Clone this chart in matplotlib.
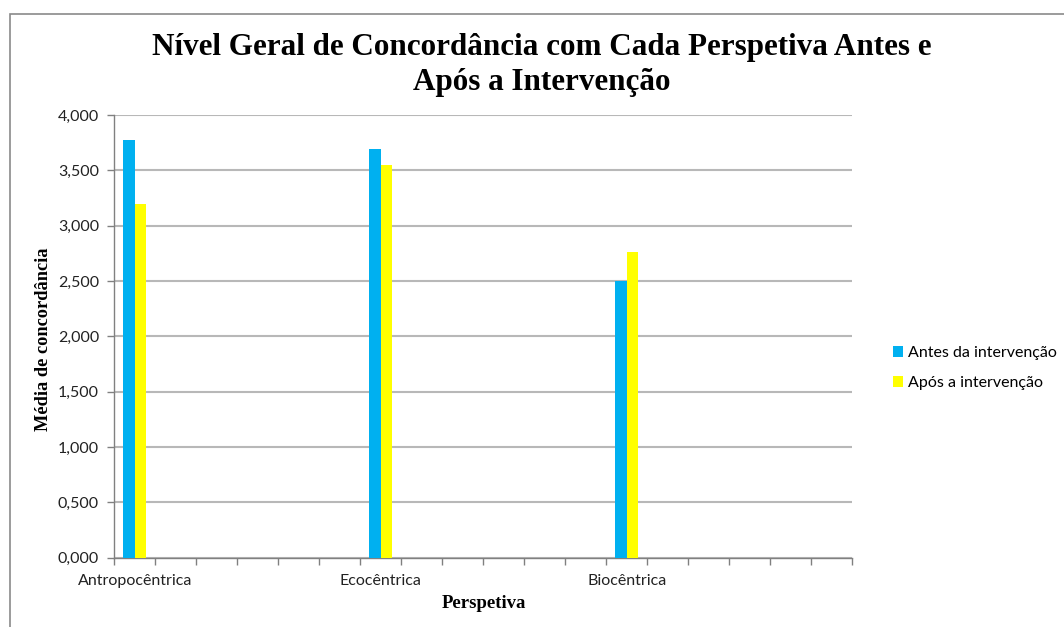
import matplotlib
matplotlib.use("Agg")
import matplotlib.pyplot as plt
import numpy as np
from matplotlib.patches import Rectangle
from matplotlib.ticker import FuncFormatter

# Data (18 category slots as in the original sheet; only three are filled)
categories = ["Antropocêntrica", "", "", "", "", "",
              "Ecocêntrica", "", "", "", "", "",
              "Biocêntrica", "", "", "", "", ""]
nan = np.nan
antes = [3.770, nan, nan, nan, nan, nan,
         3.689, nan, nan, nan, nan, nan,
         2.500, nan, nan, nan, nan, nan]
apos = [3.200, nan, nan, nan, nan, nan,
        3.547, nan, nan, nan, nan, nan,
        2.764, nan, nan, nan, nan, nan]
series_names = ["Antes da intervenção", "Após a intervenção"]
colors = ["#00B0F0", "#FFFF00"]
yticks = [0, 0.5, 1.0, 1.5, 2.0, 2.5, 3.0, 3.5, 4.0]

title = "Nível Geral de Concordância com Cada Perspetiva Antes e\nApós a Intervenção"
xlabel = "Perspetiva"
ylabel = "Média de concordância"

sans = ["Lato", "DejaVu Sans"]
serif = ["Liberation Serif", "DejaVu Serif"]
tick_fs = 11.5

fig = plt.figure(figsize=(10.64, 6.27), dpi=100)
ax = fig.add_axes([114.3 / 1064, 1 - 557.7 / 627, (852.3 - 114.3) / 1064, (557.7 - 115) / 627])

x = np.arange(len(categories))
w = 0.285
ax.bar(x - w / 2, antes, width=w, color=colors[0], label=series_names[0], zorder=3)
ax.bar(x + w / 2, apos, width=w, color=colors[1], label=series_names[1], zorder=3)

ax.set_xlim(-0.5, len(categories) - 0.5)
ax.set_ylim(0, 4.0)
ax.set_yticks(yticks)
ax.yaxis.set_major_formatter(FuncFormatter(lambda v, p: f"{v:.3f}".replace(".", ",")))
ax.grid(axis="y", color="#b8b8b8", linewidth=1.5, zorder=0)
ax.set_axisbelow(True)

ax.set_xticks(x)
ax.set_xticklabels(categories, fontfamily=sans, fontsize=tick_fs, color="#222222")
ax.tick_params(axis="x", which="major", length=0, pad=12)
ax.set_xticks(np.arange(-0.5, len(categories)), minor=True)
ax.tick_params(axis="x", which="minor", length=5, color="#808080", width=1)
ax.tick_params(axis="y", length=5, color="#808080", width=1, pad=6)
for lab in ax.get_yticklabels():
    lab.set_fontfamily(sans)
    lab.set_fontsize(tick_fs)
    lab.set_color("#222222")

for s in ["top", "right"]:
    ax.spines[s].set_visible(False)
for s in ["left", "bottom"]:
    ax.spines[s].set_color("#808080")
    ax.spines[s].set_linewidth(1)

fig.text(542 / 1064, 1 - 65 / 627, title, ha="center", va="center",
         fontfamily=serif, fontweight="bold", fontsize=22.4, linespacing=1.28)
fig.text(484 / 1064, 1 - 604 / 627, xlabel, ha="center", va="center",
         fontfamily=serif, fontweight="bold", fontsize=13.5)
fig.text(44 / 1064, 1 - 339 / 627, ylabel, ha="center", va="center", rotation=90,
         fontfamily=serif, fontweight="bold", fontsize=13.2)

leg = ax.legend(loc="center left", bbox_to_anchor=(893 / 1064, 1 - 368 / 627),
                bbox_transform=fig.transFigure, frameon=False,
                prop={"family": sans, "size": 11.5},
                handlelength=0.65, handleheight=0.65, handletextpad=0.3,
                labelspacing=1.0, borderaxespad=0, borderpad=0)

# figure border (left and top visible)
fig.patches.append(Rectangle((9.5 / 1064, -0.05), 1.2, 1 - 13.5 / 627 + 0.05,
                             transform=fig.transFigure, fill=False,
                             edgecolor="#8a8a8a", linewidth=1.2))

fig.savefig("out.png", dpi=100)
